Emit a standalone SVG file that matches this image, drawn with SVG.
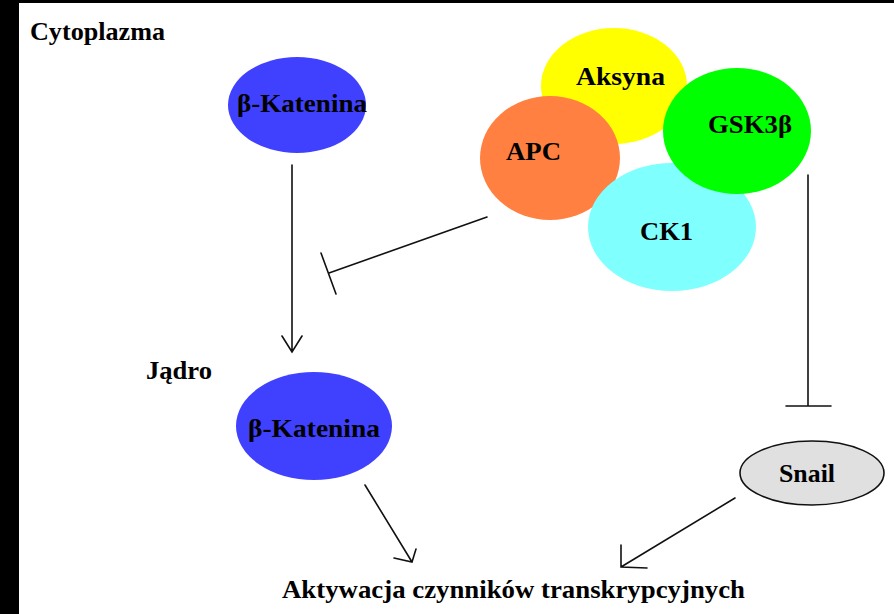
<svg xmlns="http://www.w3.org/2000/svg" width="894" height="614" viewBox="0 0 894 614">
<style>
  .lbl { font-family: "Liberation Serif", "Times New Roman", serif; font-weight: bold; fill: #000; }
  .con { stroke: #111; stroke-width: 1.6; fill: none; stroke-linecap: round; }
</style>
<rect x="0" y="0" width="894" height="614" fill="#ffffff"/>
<rect x="0" y="0" width="19" height="614" fill="#000"/>
<rect x="0" y="0" width="894" height="3" fill="#000"/>

<text class="lbl" x="30" y="40" font-size="25" textLength="135" lengthAdjust="spacingAndGlyphs">Cytoplazma</text>
<text class="lbl" x="146" y="379" font-size="25" textLength="66" lengthAdjust="spacingAndGlyphs">Jądro</text>

<g id="bkat1">
  <ellipse cx="297" cy="105" rx="69" ry="48" fill="#4040FF"/>
  <text class="lbl" x="237" y="112" font-size="26" textLength="130" lengthAdjust="spacingAndGlyphs">β-Katenina</text>
</g>
<g id="aksyna">
  <ellipse cx="614" cy="86" rx="73" ry="58" fill="#FFFF00"/>
  <text class="lbl" x="576" y="85" font-size="25" textLength="89" lengthAdjust="spacingAndGlyphs">Aksyna</text>
</g>
<g id="apc">
  <ellipse cx="550" cy="158" rx="70" ry="62" fill="#FF8040"/>
  <text class="lbl" x="506" y="160" font-size="25" textLength="55" lengthAdjust="spacingAndGlyphs">APC</text>
</g>
<g id="ck1">
  <ellipse cx="672" cy="227" rx="84" ry="64" fill="#80FFFF"/>
  <text class="lbl" x="640" y="240" font-size="25" textLength="53" lengthAdjust="spacingAndGlyphs">CK1</text>
</g>
<g id="gsk3b">
  <ellipse cx="737" cy="131" rx="74" ry="63" fill="#00FF00"/>
  <text class="lbl" x="708" y="133" font-size="25" textLength="84" lengthAdjust="spacingAndGlyphs">GSK3β</text>
</g>
<g id="bkat2">
  <ellipse cx="314" cy="426" rx="78" ry="54" fill="#4040FF"/>
  <text class="lbl" x="248" y="437" font-size="26" textLength="132" lengthAdjust="spacingAndGlyphs">β-Katenina</text>
</g>
<g id="snail">
  <ellipse cx="812" cy="473" rx="72" ry="32" fill="#E0E0E0" stroke="#111" stroke-width="1.6"/>
  <text class="lbl" x="779" y="482" font-size="25" textLength="56" lengthAdjust="spacingAndGlyphs">Snail</text>
</g>
<g id="aktywacja">
  <text class="lbl" x="282" y="598" font-size="26" textLength="463" lengthAdjust="spacingAndGlyphs">Aktywacja czynników transkrypcyjnych</text>
</g>

<g id="connectors">
  <path class="con" d="M292 165 L292 352 M282 336 L292 352 L302 336"/>
  <path class="con" d="M487 217 L329 273 M321 253 L336 294"/>
  <path class="con" d="M808 175 L808 406 M786 406 L831 406"/>
  <path class="con" d="M365 485 L412 562 M394 558 L412 562 L416 549"/>
  <path class="con" d="M735 498 L621 567 M621 545 L621 567 L647 568"/>
</g>
</svg>
